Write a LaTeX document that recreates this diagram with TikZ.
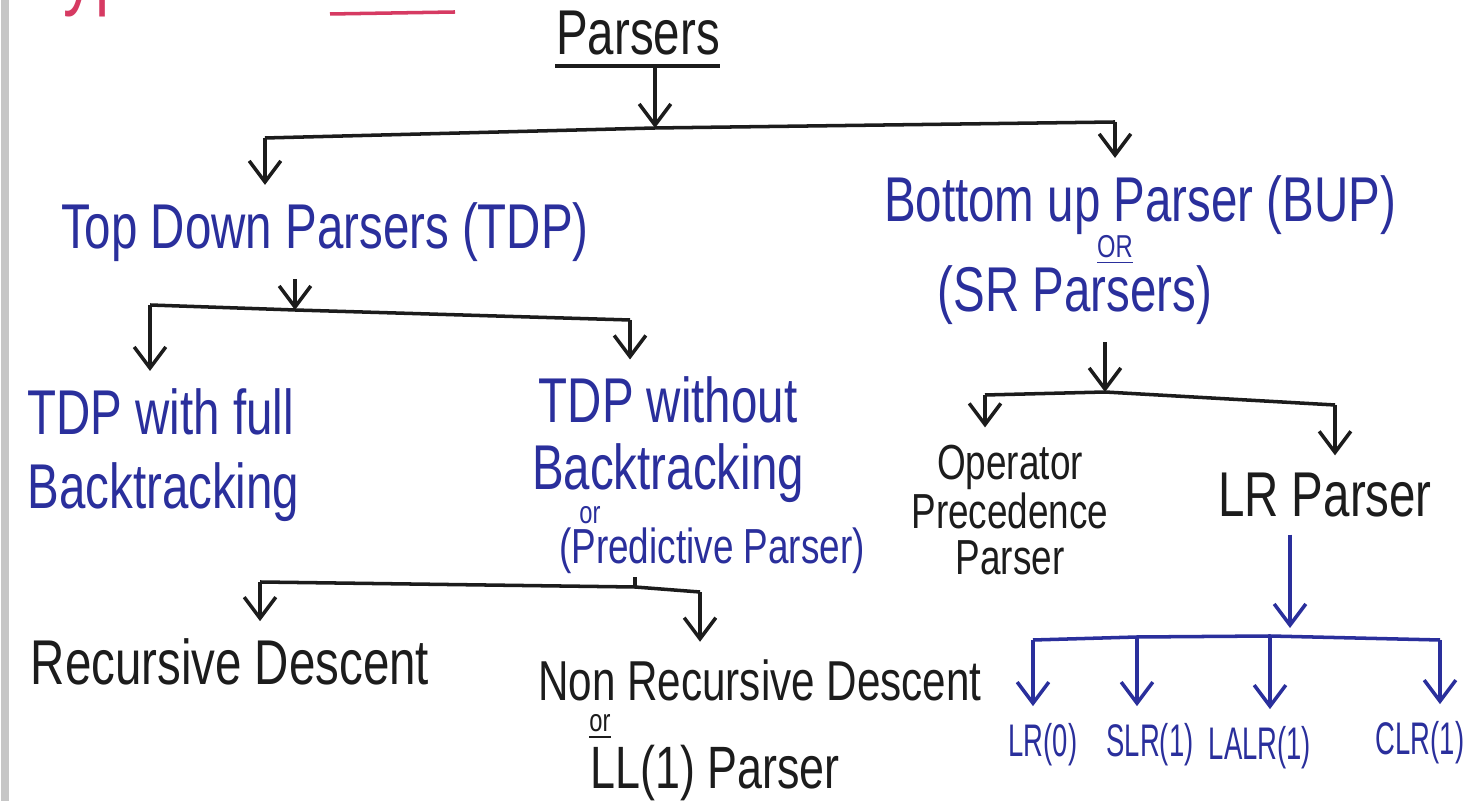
\documentclass[tikz,border=0pt]{standalone}
\usepackage{fontspec}
\usepackage{tikz}
\usetikzlibrary{arrows.meta}
\newfontfamily\handfont[FakeStretch=0.75]{Liberation Sans}
\newfontfamily\narrowfont[FakeStretch=0.6]{Liberation Sans}
\definecolor{inkblue}{HTML}{2A2F9C}
\definecolor{inkblack}{HTML}{1C1C1C}
\definecolor{inkred}{HTML}{D63A62}

\begin{document}
\begin{tikzpicture}[x=0.01cm,y=-0.01cm,line width=1pt,draw=inkblack,
        txt/.style={font=\handfont\fontsize{18}{21}\selectfont,inner sep=0pt,outer sep=5pt,align=center},
        small/.style={txt,font=\handfont\fontsize{9}{9}\selectfont,outer sep=0pt},
        leaf/.style={txt,font=\narrowfont\fontsize{13}{14}\selectfont,text=inkblue},
        arr/.style={-{Straight Barb[length=6pt,width=9pt]}}]
        \useasboundingbox (0,0) rectangle (1482,801);
        \clip (0,0) rectangle (1482,801);
        \fill[white] (0,0) rectangle (1482,801);
        \draw[gray!45,line width=2pt] (5,0) -- (5,801);
        \node[txt,text=inkred,anchor=base,font=\handfont\fontsize{24}{24}\selectfont] (title) at (250,0) {Types of Parser};
        \draw[inkred] (330,14) -- (455,12);
        \node[txt,text=inkblack,anchor=base] (parsers) at (638,55) {Parsers};
        \draw[line width=1.3pt] (555,66) -- (720,66);
        \coordinate (p0) at (655,66);
        \coordinate (j0) at (655,128);
        \coordinate (l0) at (265,138);
        \coordinate (r0) at (1115,122);
        \node[txt,text=inkblue] (tdp) at (325,232) {Top Down Parsers (TDP)};
        \node[txt,text=inkblue] (bup) at (1140,205) {Bottom up Parser (BUP)};
        \node[small,text=inkblue] (or1) at (1115,250) {\underline{OR}};
        \node[txt,text=inkblue] (sr) at (1075,295) {(SR Parsers)};
        \draw[arr] (p0) -- (j0);
        \draw (l0) -- (j0) -- (r0);
        \draw[arr] (l0) -- (l0 |- tdp.north);
        \draw[arr] (r0) -- (r0 |- bup.north);
        \coordinate (j1) at (295,310);
        \coordinate (l1) at (150,305);
        \coordinate (r1) at (630,320);
        \node[txt,text=inkblue,anchor=west,align=left] (tdpfull) at (10,455) {TDP with full\\Backtracking};
        \node[txt,text=inkblue] (tdpwo) at (668,440) {TDP without\\[-2pt]Backtracking};
        \node[small,text=inkblue] (or2) at (590,515) {or};
        \node[txt,text=inkblue,font=\handfont\fontsize{14}{16}\selectfont,outer sep=1pt] (pred) at (712,551) {(Predictive Parser)};
        \draw[arr] (tdp.south -| j1) -- (j1);
        \draw (l1) -- (j1) -- (r1);
        \draw[arr] (l1) -- (l1 |- tdpfull.north);
        \draw[arr] (r1) -- (r1 |- tdpwo.north);
        \coordinate (j2) at (635,587);
        \coordinate (l2) at (260,582);
        \coordinate (r2) at (700,592);
        \node[txt,text=inkblack] (rd) at (230,662) {Recursive Descent};
        \node[txt,text=inkblack,font=\handfont\fontsize{16}{18}\selectfont] (nrd) at (760,680) {Non Recursive Descent};
        \node[small,text=inkblack] (or3) at (600,727) {\underline{or}};
        \node[txt,text=inkblack,font=\handfont\fontsize{17}{20}\selectfont] (ll1) at (715,773) {LL(1) Parser};
        \draw (pred.south -| j2) -- (j2);
        \draw (l2) -- (j2) -- (r2);
        \draw[arr] (l2) -- (l2 |- rd.north);
        \draw[arr] (r2) -- (r2 |- nrd.north);
        \coordinate (j3) at (1105,392);
        \coordinate (l3) at (985,395);
        \coordinate (r3) at (1335,405);
        \node[txt,text=inkblack,font=\handfont\fontsize{14}{13}\selectfont] (op) at (1010,510) {Operator\\Precedence\\Parser};
        \node[txt,text=inkblack] (lr) at (1325,495) {LR Parser};
        \draw[arr] (sr.south -| j3) -- (j3);
        \draw (l3) -- (j3) -- (r3);
        \draw[arr] (l3) -- (l3 |- op.north);
        \draw[arr] (r3) -- (r3 |- lr.north);
        \coordinate (j4) at (1290,628);
        \coordinate (l4) at (1033,640);
        \coordinate (m1) at (1137,637);
        \coordinate (m2) at (1270,636);
        \coordinate (r4) at (1440,640);
        \node[leaf] (lr0) at (1043,745) {LR(0)};
        \node[leaf] (slr) at (1150,745) {SLR(1)};
        \node[leaf] (lalr) at (1260,748) {LALR(1)};
        \node[leaf] (clr) at (1420,743) {CLR(1)};
        \draw[inkblue,arr] (lr.south -| j4) -- (j4);
        \draw[inkblue] (l4) -- (m1) -- (m2) -- (r4);
        \draw[inkblue,arr] (l4) -- (l4 |- lr0.north);
        \draw[inkblue,arr] (m1) -- (m1 |- slr.north);
        \draw[inkblue,arr] (m2) -- (m2 |- lalr.north);
        \draw[inkblue,arr] (r4) -- (r4 |- clr.north);
\end{tikzpicture}
\end{document}
